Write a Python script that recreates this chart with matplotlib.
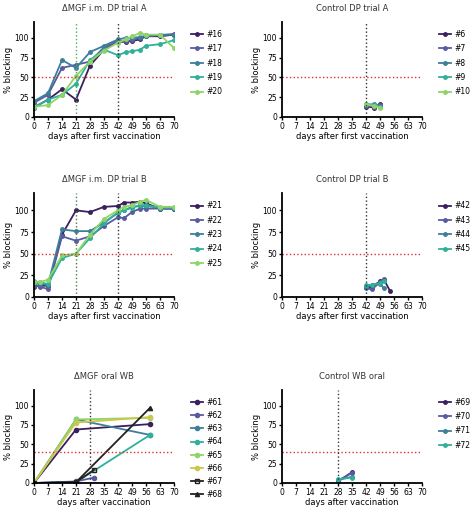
import matplotlib.pyplot as plt

# trial A (i.m. DP)
days_a = [0, 7, 14, 21, 28, 35, 42, 46, 49, 53, 56, 63, 70]
trial_a = {
    "#16": [12, 22, 35, 22, 65, 85, 95, 95, 96, 98, 102, 102, 104],
    "#17": [18, 28, 62, 66, 70, 88, 96, 96, 97, 100, 103, 103, 105],
    "#18": [20, 30, 72, 62, 82, 90, 98, 100, 100, 101, 102, 104, 104],
    "#19": [12, 22, 28, 42, 72, 85, 78, 82, 83, 85, 90, 92, 97],
    "#20": [13, 15, 28, 52, 70, 84, 94, 98, 102, 106, 104, 104, 87],
}
# trial B
days_b = [0, 3, 7, 14, 21, 28, 35, 42, 45, 49, 53, 56, 63, 70]
trial_b = {
    "#21": [12, 13, 13, 72, 100, 98, 104, 105, 109, 109, 110, 108, 102, 102],
    "#22": [13, 12, 9, 70, 65, 70, 82, 92, 91, 98, 102, 102, 102, 102],
    "#23": [16, 15, 14, 78, 76, 76, 86, 97, 100, 104, 105, 105, 103, 103],
    "#24": [18, 17, 15, 45, 50, 68, 85, 98, 100, 103, 106, 106, 103, 103],
    "#25": [17, 17, 20, 48, 50, 72, 90, 100, 104, 106, 110, 112, 104, 104],
}
# oral WB
oral_days = {
    "#61": [0, 21, 58], "#62": [0, 21, 30], "#63": [0, 21, 58], "#64": [0, 21, 58],
    "#65": [0, 21, 58], "#66": [0, 21, 58], "#67": [0, 21, 30], "#68": [0, 21, 58],
}
oral_vals = {
    "#61": [0, 69, 76], "#62": [0, 2, 7], "#63": [0, 82, 62], "#64": [0, 1, 62],
    "#65": [0, 82, 84], "#66": [0, 78, 85], "#67": [0, 1, 17], "#68": [0, 1, 97],
}
# controls
ctrl_a_days = [42, 46, 49]
ctrl_a = {"#6": [13, 12, 16], "#7": [14, 13, 15], "#8": [15, 16, 14],
          "#9": [17, 15, 13], "#10": [16, 14, 12]}
ctrl_b_days = {"#42": [42, 45, 49, 51, 54], "#43": [42, 45, 49, 51],
               "#44": [42, 45, 49, 51], "#45": [42, 45, 49, 51]}
ctrl_b = {"#42": [11, 12, 18, 20, 7], "#43": [10, 9, 17, 21],
          "#44": [12, 14, 15, 10], "#45": [14, 14, 16, 19]}
ctrl_wb_days = [28, 35]
ctrl_wb = {"#69": [2, 14], "#70": [3, 13], "#71": [4, 8], "#72": [5, 7]}

cols = ["#3b1f5e", "#5a5aa0", "#3d7f9a", "#2fb09a", "#8fd46a"]
oral_cols = ["#3b1f5e", "#5a5aa0", "#3d7f9a", "#2fb09a", "#8fd46a", "#c9c84a", "#222222", "#222222"]
oral_mk = ["o", "o", "o", "o", "o", "o", "s", "^"]

fig = plt.figure(figsize=(4.74, 5.13), dpi=100)
W, H = 474, 513
# (left, top, bottom) in pixels
rects = [(34, 22, 117), (282, 22, 117), (34, 193, 297), (282, 193, 297), (34, 390, 483), (282, 390, 483)]
axs = [fig.add_axes([x / W, 1 - b / H, 140 / W, (b - t) / H]) for x, t, b in rects]


def style(ax, title, xlabel, thr, vlines, spacing=0.7):
    ax.set_xlim(0, 70)
    ax.set_ylim(0, 120)
    ax.set_xticks(range(0, 71, 7))
    ax.set_yticks([0, 25, 50, 75, 100])
    ax.tick_params(labelsize=5.5, length=2, width=1, pad=1.5)
    for s in ["top", "right"]:
        ax.spines[s].set_visible(False)
    for s in ["left", "bottom"]:
        ax.spines[s].set_linewidth(1.3)
    ax.set_title(title, fontsize=6, color="#333333", pad=8)
    ax.set_xlabel(xlabel, fontsize=6, labelpad=1)
    ax.set_ylabel("% blocking", fontsize=6, labelpad=1)
    ax.axhline(thr, color="#e03030", ls=":", lw=1)
    for x, c in vlines:
        ax.axvline(x, color=c, ls=":", lw=1)
    ax.legend(loc="upper left", bbox_to_anchor=(1.1, 0.95), frameon=False,
              fontsize=5.5, handlelength=1.5, labelspacing=spacing,
              borderaxespad=0, handletextpad=0.5)


for i, (k, v) in enumerate(trial_a.items()):
    axs[0].plot(days_a, v, color=cols[i], marker="o", ms=2.5, lw=1.3, label=k)
style(axs[0], "ΔMGF i.m. DP trial A", "days after first vaccination", 50,
      [(21, "#4caf50"), (42, "#333333")])

for i, (k, v) in enumerate(ctrl_a.items()):
    axs[1].plot(ctrl_a_days, v, color=cols[i], marker="o", ms=2.5, lw=1.3, label=k)
style(axs[1], "Control DP trial A", "days after first vaccination", 50, [(42, "#333333")])

for i, (k, v) in enumerate(trial_b.items()):
    axs[2].plot(days_b, v, color=cols[i], marker="o", ms=2.5, lw=1.3, label=k)
style(axs[2], "ΔMGF i.m. DP trial B", "days after first vaccination", 50,
      [(21, "#4c7a4c"), (42, "#333333")])

for i, k in enumerate(ctrl_b):
    axs[3].plot(ctrl_b_days[k], ctrl_b[k], color=cols[i], marker="o", ms=2.5, lw=1.3, label=k)
style(axs[3], "Control DP trial B", "days after first vaccination", 50, [(42, "#333333")])

for i, k in enumerate(oral_vals):
    mfc = "none" if k == "#67" else oral_cols[i]
    axs[4].plot(oral_days[k], oral_vals[k], color=oral_cols[i], marker=oral_mk[i],
                ms=3, mfc=mfc, lw=1.3, label=k)
style(axs[4], "ΔMGF oral WB", "days after vaccination", 40, [(28, "#333333")], spacing=0.55)

for i, (k, v) in enumerate(ctrl_wb.items()):
    axs[5].plot(ctrl_wb_days, v, color=cols[i], marker="o", ms=2.5, lw=1.3, label=k)
style(axs[5], "Control WB oral", "days after vaccination", 40, [(28, "#333333")])

fig.savefig("out.png", dpi=100)
